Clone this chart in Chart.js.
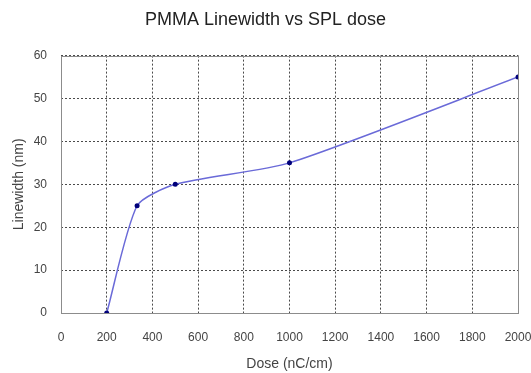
<!DOCTYPE html>
<html>
<head>
<meta charset="utf-8">
<script src="https://cdn.jsdelivr.net/npm/chart.js@4"></script>
<style>
  html, body { margin: 0; padding: 0; background: #fff; }
  #wrap { width: 531px; height: 373px; }
</style>
</head>
<body>
<div id="wrap"><canvas id="doseChart" width="531" height="373"></canvas></div>
<script>
var doses = [200, 333, 500, 1000, 2000];
var linewidths = [0, 25, 30, 35, 55];
var chartTitle = "PMMA Linewidth vs SPL dose";
var xTitle = "Dose (nC/cm)";
var yTitle = "Linewidth (nm)";

var points = doses.map(function(d, i) { return {x: d, y: linewidths[i]}; });

// grey box round the plot area
var boxPlugin = {
  id: "plotBox",
  afterDraw: function(chart) {
    var a = chart.chartArea, ctx = chart.ctx;
    ctx.save();
    ctx.strokeStyle = "#8c8c8c";
    ctx.lineWidth = 1;
    ctx.strokeRect(Math.round(a.left) + 0.5, Math.round(a.top) + 0.5,
                   Math.round(a.right - a.left), Math.round(a.bottom - a.top));
    ctx.restore();
  }
};

var gridStyle = {
  color: "#4a4a4a",
  lineWidth: 1,
  drawTicks: false
};

function plainLabel(value) { return String(value); }

var chart = new Chart("doseChart", {
  type: "line",
  data: {
    datasets: [{
      data: points,
      borderColor: "#6a6ad8",
      borderWidth: 1.5,
      tension: 0.22,
      pointRadius: 2.5,
      pointBackgroundColor: "#00007a",
      pointBorderWidth: 0,
      fill: false
    }]
  },
  plugins: [boxPlugin],
  options: {
    responsive: false,
    animation: false,
    layout: {padding: 0},
    plugins: {
      legend: {display: false},
      tooltip: {enabled: false},
      title: {
        display: true,
        text: chartTitle,
        color: "#222",
        font: {family: "Liberation Sans", size: 18, weight: "normal"},
        padding: {top: 9, bottom: 25}
      }
    },
    scales: {
      x: {
        type: "linear",
        min: 0, max: 2000,
        grid: gridStyle,
        border: {display: false, dash: [2, 2]},
        ticks: {stepSize: 200, padding: 17, color: "#444", maxRotation: 0,
                font: {family: "Liberation Sans", size: 12}, callback: plainLabel},
        title: {display: true, text: xTitle, color: "#444",
                font: {family: "Liberation Sans", size: 14}, padding: {top: 0, bottom: 0}},
        afterFit: function(s) { s.height = 60; s.paddingLeft = 0; s.paddingRight = 0; }
      },
      y: {
        min: 0, max: 60,
        grid: gridStyle,
        border: {display: false, dash: [2, 2]},
        ticks: {stepSize: 10, padding: 14, color: "#444",
                font: {family: "Liberation Sans", size: 12}, callback: plainLabel},
        title: {display: true, text: yTitle, color: "#444",
                font: {family: "Liberation Sans", size: 14}, padding: {top: 11, bottom: 0}},
        afterFit: function(s) { s.width = 61; s.paddingTop = 0; s.paddingBottom = 0; }
      },
      // empty strip on the right so the title stays centred on the page
      spacer: {
        position: "right",
        min: 0, max: 60,
        grid: {display: false},
        border: {display: false},
        ticks: {display: false},
        afterFit: function(s) { s.width = 13; s.paddingTop = 0; s.paddingBottom = 0; }
      }
    }
  }
});
</script>
</body>
</html>
